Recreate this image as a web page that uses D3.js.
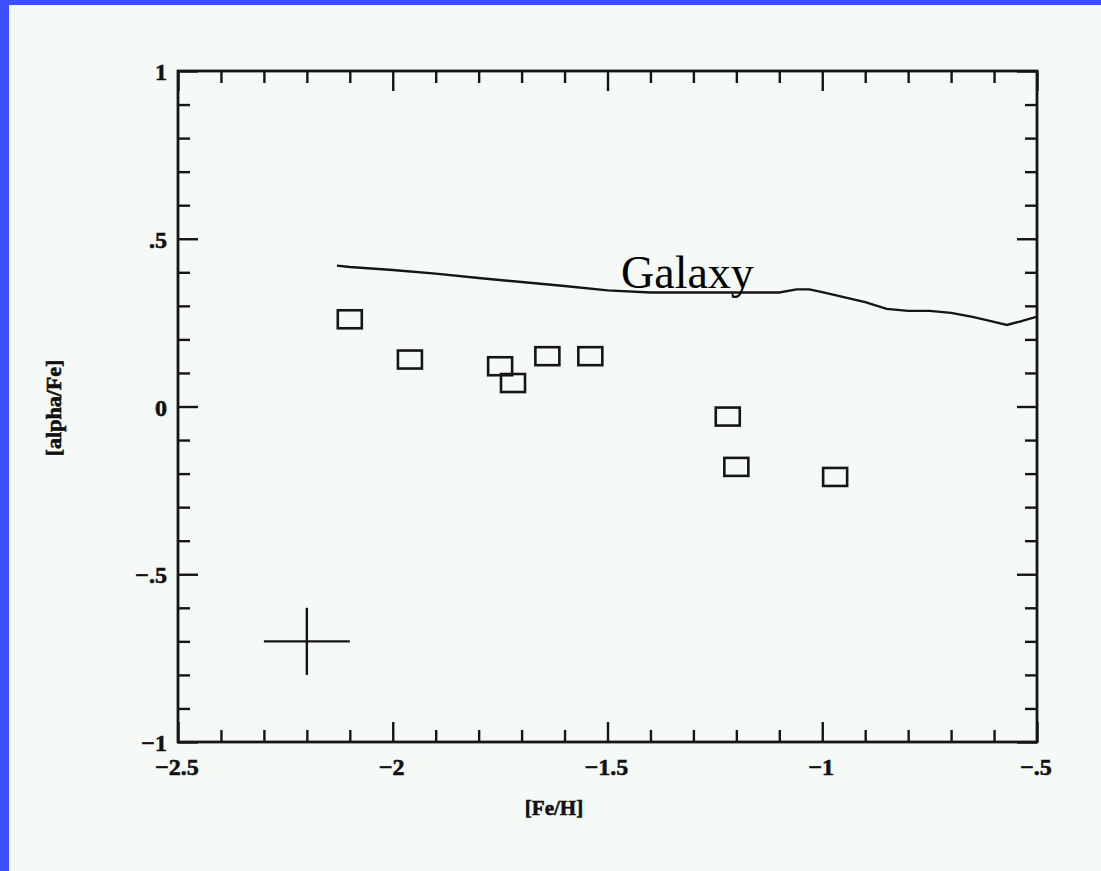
<!DOCTYPE html>
<html>
<head>
<meta charset="utf-8">
<script src="https://cdn.jsdelivr.net/npm/d3@7"></script>
<style>
  html, body { margin: 0; padding: 0; background: #f5faf7; }
  svg { display: block; }
  .tick-label { font-family: "Liberation Serif", "DejaVu Serif", serif; font-weight: bold; fill: #111; stroke: #111; stroke-width: 0.6; }
</style>
</head>
<body>
<svg id="chart" width="1101" height="871"></svg>
<script>
// [Fe/H] and [alpha/Fe] of the measured stars
const starFeH   = [-2.10, -1.96, -1.75, -1.72, -1.64, -1.54, -1.22, -1.20, -0.97];
const starAlpha = [ 0.26,  0.14,  0.12,  0.07,  0.15,  0.15, -0.03, -0.18, -0.21];

// Galactic trend of [alpha/Fe] versus [Fe/H]
const galaxyFeH   = [-2.13, -2.10, -2.00, -1.90, -1.80, -1.70, -1.60, -1.50, -1.40, -1.30, -1.20, -1.10,
                     -1.06, -1.03, -1.00, -0.95, -0.90, -0.85, -0.80, -0.75, -0.70, -0.65, -0.60, -0.57,
                     -0.54, -0.51, -0.50];
const galaxyAlpha = [0.420, 0.416, 0.407, 0.396, 0.383, 0.371, 0.359, 0.346, 0.340, 0.340, 0.340, 0.340,
                     0.349, 0.349, 0.341, 0.326, 0.311, 0.291, 0.285, 0.285, 0.279, 0.267, 0.252, 0.243,
                     0.253, 0.264, 0.268];

// Typical error bar
const errorFeH = [-2.2];
const errorAlpha = [-0.7];
const errorSize = [0.1];

// Axis ticks
const xMajorTicks = [-2.5, -2, -1.5, -1, -0.5];
const xTickLabels = ["\u22122.5", "\u22122", "\u22121.5", "\u22121", "\u2212.5"];
const yMajorTicks = [-1, -0.5, 0, 0.5, 1];
const yTickLabels = ["\u22121", "\u2212.5", "0", ".5", "1"];
const minorStep = 0.1;

const svg = d3.select("#chart");
const W = 1101, H = 871;

// page background and blue frame strips
svg.append("rect").attr("width", W).attr("height", H).attr("fill", "#f5faf7");
svg.append("rect").attr("x", 0).attr("y", 0).attr("width", 9).attr("height", H).attr("fill", "#3c50ff");
svg.append("rect").attr("x", 0).attr("y", 0).attr("width", W).attr("height", 5).attr("fill", "#3c50ff");

const plot = { left: 178, right: 1037, top: 71, bottom: 742 };
const x = d3.scaleLinear().domain([-2.5, -0.5]).range([plot.left, plot.right]);
const y = d3.scaleLinear().domain([-1, 1]).range([plot.bottom, plot.top]);

const minorX = d3.range(-2.5, -0.5 + 1e-9, minorStep).map(v => +v.toFixed(2)).filter(v => !xMajorTicks.some(m => Math.abs(m - v) < 1e-6));
const minorY = d3.range(-1, 1 + 1e-9, minorStep).map(v => +v.toFixed(2)).filter(v => !yMajorTicks.some(m => Math.abs(m - v) < 1e-6));

const ink = "#151515";
const axes = svg.append("g");

function tickAxis(axisFn, scale, values, size, transform) {
  const g = axes.append("g").attr("transform", transform)
    .call(axisFn(scale).tickValues(values).tickSize(size).tickFormat(""));
  g.select(".domain").remove();
  g.selectAll(".tick line").attr("stroke", ink).attr("stroke-width", 2.4);
  g.selectAll(".tick text").remove();
  return g;
}

// inward ticks on all four sides
tickAxis(d3.axisBottom, x, minorX, -12, `translate(0,${plot.bottom})`);
tickAxis(d3.axisBottom, x, xMajorTicks, -20, `translate(0,${plot.bottom})`);
tickAxis(d3.axisTop, x, minorX, -12, `translate(0,${plot.top})`);
tickAxis(d3.axisTop, x, xMajorTicks, -20, `translate(0,${plot.top})`);
tickAxis(d3.axisLeft, y, minorY, -12, `translate(${plot.left},0)`);
tickAxis(d3.axisLeft, y, yMajorTicks, -20, `translate(${plot.left},0)`);
tickAxis(d3.axisRight, y, minorY, -12, `translate(${plot.right},0)`);
tickAxis(d3.axisRight, y, yMajorTicks, -20, `translate(${plot.right},0)`);

// tick labels
axes.append("g").selectAll("text").data(xMajorTicks).join("text")
  .attr("class", "tick-label")
  .attr("x", d => x(d) - 1).attr("y", 775)
  .attr("text-anchor", "middle").attr("font-size", 24)
  .text((d, i) => xTickLabels[i]);

axes.append("g").selectAll("text").data(yMajorTicks).join("text")
  .attr("class", "tick-label")
  .attr("x", plot.left - 11).attr("y", d => y(d) + 9)
  .attr("text-anchor", "end").attr("font-size", 24)
  .text((d, i) => yTickLabels[i]);

// frame
svg.append("rect")
  .attr("x", plot.left).attr("y", plot.top)
  .attr("width", plot.right - plot.left).attr("height", plot.bottom - plot.top)
  .attr("fill", "none").attr("stroke", ink).attr("stroke-width", 2.8);

// axis titles
svg.append("text").attr("class", "tick-label")
  .attr("x", 554).attr("y", 815).attr("text-anchor", "middle").attr("font-size", 21)
  .text("[Fe/H]");
svg.append("text").attr("class", "tick-label")
  .attr("transform", "translate(61,408) rotate(-90)")
  .attr("text-anchor", "middle").attr("font-size", 22)
  .text("[alpha/Fe]");

// galactic trend line
const line = d3.line().x(d => x(d[0])).y(d => y(d[1]));
svg.append("path")
  .datum(galaxyFeH.map((v, i) => [v, galaxyAlpha[i]]))
  .attr("d", line).attr("fill", "none").attr("stroke", ink).attr("stroke-width", 2.4);

svg.append("text")
  .attr("x", 621).attr("y", 288)
  .attr("font-family", "'Liberation Serif', 'Times New Roman', serif")
  .attr("font-size", 46).attr("fill", "#000")
  .text("Galaxy");

// star markers: open rectangles
const bw = 24, bh = 18;
svg.append("g").selectAll("rect").data(starFeH.map((v, i) => [v, starAlpha[i]])).join("rect")
  .attr("x", d => x(d[0]) - bw / 2).attr("y", d => y(d[1]) - bh / 2)
  .attr("width", bw).attr("height", bh)
  .attr("fill", "none").attr("stroke", ink).attr("stroke-width", 2.6);

// representative error cross
const err = svg.append("g");
errorFeH.forEach((v, i) => {
  err.append("line")
    .attr("x1", x(v - errorSize[i])).attr("x2", x(v + errorSize[i]))
    .attr("y1", y(errorAlpha[i])).attr("y2", y(errorAlpha[i]))
    .attr("stroke", ink).attr("stroke-width", 2.4);
  err.append("line")
    .attr("x1", x(v)).attr("x2", x(v))
    .attr("y1", y(errorAlpha[i] - errorSize[i])).attr("y2", y(errorAlpha[i] + errorSize[i]))
    .attr("stroke", ink).attr("stroke-width", 2.4);
});
</script>
</body>
</html>
